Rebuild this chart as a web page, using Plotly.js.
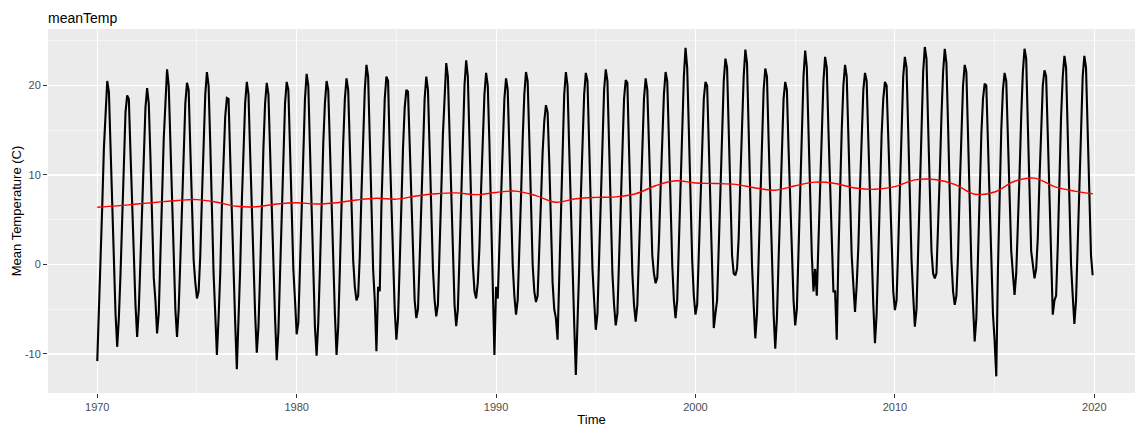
<!DOCTYPE html>
<html><head><meta charset="utf-8">
<script src="https://cdn.plot.ly/plotly-3.0.1.min.js"></script>
<style>html,body{margin:0;padding:0;background:#fff;} #chart{width:1135px;height:427px;}</style>
</head><body><div id="chart"></div>
<script>
// Monthly mean temperature (C), Jan..Dec for each year
const startYear = 1970;
const temp1970s = [
  -10.8, -5.5, -0.5, 6.5, 13.0, 17.8, 20.5, 19.3, 13.0, 6.0, -1.0, -5.5,
  -9.2, -6.0, -1.0, 6.0, 12.5, 17.0, 18.9, 18.5, 12.5, 6.5, -0.5, -4.5,
  -8.1, -5.0, 0.5, 7.0, 13.0, 17.5, 19.7, 18.0, 12.0, 5.5, -1.5, -4.0,
  -7.7, -5.5, 0.0, 7.5, 14.0, 19.0, 21.8, 20.0, 13.5, 6.5, -1.0, -5.0,
  -8.1, -5.0, 0.5, 7.0, 13.5, 18.0, 20.3, 19.5, 13.0, 6.0, 0.5, -2.0,
  -3.8, -3.0, 1.0, 7.5, 14.0, 19.0, 21.5, 20.0, 13.5, 6.0, -1.0, -5.5,
  -10.1, -6.0, -1.0, 6.5, 12.5, 16.5, 18.6, 18.5, 12.0, 5.0, -2.0, -6.5,
  -11.7, -7.0, -0.5, 7.0, 13.0, 18.0, 20.4, 19.0, 12.5, 5.5, -1.5, -5.5,
  -9.85, -7.0, -1.0, 6.5, 13.0, 18.0, 20.3, 19.0, 12.5, 6.0, -1.0, -6.0,
  -10.7, -7.5, -1.0, 6.0, 13.0, 18.0, 20.4, 19.5, 13.0, 6.0, -0.5, -4.0
];
const temp1980s = [
  -7.8, -6.5, -0.5, 7.0, 13.5, 18.5, 21.3, 20.0, 13.0, 5.5, -1.5, -7.0,
  -10.2, -6.5, -0.5, 7.0, 13.5, 18.0, 20.5, 19.5, 13.0, 6.0, -1.0, -5.5,
  -10.1, -7.0, -0.5, 7.0, 13.5, 18.5, 20.8, 19.5, 13.0, 6.5, 0.5, -2.5,
  -4.0, -3.5, 1.0, 8.0, 14.5, 19.5, 22.3, 21.0, 14.0, 6.5, -0.5, -4.0,
  -9.7, -2.5, -3.0, 6.5, 13.5, 18.5, 21.0, 20.5, 13.0, 6.0, -1.0, -5.0,
  -8.4, -6.0, 0.0, 7.0, 13.0, 17.5, 19.5, 19.3, 13.0, 6.0, -0.5, -4.0,
  -6.0, -5.0, 0.5, 7.5, 14.0, 18.5, 21.0, 19.5, 13.0, 6.0, -0.5, -4.0,
  -5.8, -4.5, 1.0, 8.0, 14.5, 19.5, 22.5, 21.0, 14.0, 6.5, -0.5, -4.5,
  -6.9, -5.0, 1.0, 8.0, 15.0, 20.0, 22.8, 21.0, 14.0, 6.5, 0.0, -3.0,
  -3.8, -2.0, 2.0, 8.5, 14.5, 19.0, 21.4, 20.0, 13.5, 6.0, -1.5, -10.1
];
const temp1990s = [
  -2.5, -3.8, 2.0, 8.0, 14.0, 18.5, 20.8, 19.5, 13.0, 6.0, 0.0, -3.5,
  -5.6, -4.0, 1.0, 7.5, 14.0, 19.0, 21.5, 20.5, 14.0, 6.5, 0.0, -3.0,
  -4.2, -3.5, 1.0, 7.0, 12.5, 16.0, 17.8, 17.0, 11.5, 4.5, -2.0, -5.0,
  -6.0, -8.4, -1.0, 7.0, 14.0, 19.0, 21.5, 20.0, 13.0, 5.5, -2.0, -6.5,
  -12.35, -7.5, -0.5, 7.5, 14.0, 19.0, 21.4, 20.5, 13.5, 6.5, -0.5, -4.0,
  -7.3, -5.5, 0.5, 7.5, 14.5, 19.5, 21.8, 20.5, 13.5, 6.5, -1.0, -4.5,
  -6.8, -5.5, 0.0, 7.0, 13.5, 18.5, 20.6, 20.3, 13.0, 6.0, -1.0, -4.5,
  -6.4, -4.5, 1.0, 7.5, 14.0, 18.5, 20.8, 19.5, 13.5, 7.0, 1.0, -1.0,
  -2.1, -1.5, 2.5, 8.5, 14.5, 19.0, 21.5, 20.5, 14.0, 6.5, 0.0, -4.0,
  -6.0, -4.0, 2.0, 9.0, 15.5, 21.0, 24.2, 22.0, 15.0, 7.5, 0.5, -3.5
];
const temp2000s = [
  -5.6, -4.5, 1.5, 8.0, 14.0, 18.5, 20.4, 20.0, 13.5, 6.5, -0.5, -7.1,
  -5.5, -4.0, 2.0, 8.5, 15.5, 20.5, 23.0, 22.0, 15.0, 7.5, 1.0, -1.0,
  -1.2, -0.5, 3.0, 9.5, 16.0, 21.0, 24.0, 22.5, 15.0, 7.0, 0.0, -4.5,
  -8.25, -5.5, 1.0, 8.0, 15.0, 19.5, 21.9, 21.0, 14.0, 6.5, -1.0, -5.5,
  -9.4, -6.0, 0.5, 7.5, 14.0, 18.5, 20.4, 19.5, 13.0, 6.5, 0.0, -4.0,
  -6.8, -5.0, 1.5, 9.0, 16.0, 21.0, 23.9, 22.0, 15.0, 7.5, 1.0, -3.0,
  -0.5, -3.5, 2.5, 9.0, 15.5, 20.5, 23.2, 22.0, 15.0, 8.0, 1.0, -3.0,
  -3.0, -8.4, 1.0, 8.5, 15.0, 20.0, 22.3, 21.0, 14.5, 7.5, 1.0, -2.3,
  -5.3, -2.3, 2.0, 8.5, 15.0, 19.5, 21.4, 20.5, 14.0, 7.0, 0.0, -4.5,
  -8.8, -5.5, 1.0, 8.0, 14.5, 18.5, 20.4, 20.0, 14.0, 6.5, 0.5, -3.0
];
const temp2010s = [
  -5.1, -4.0, 2.0, 9.0, 16.0, 21.0, 23.2, 22.0, 15.0, 7.5, 0.5, -3.5,
  -6.95, -5.0, 2.0, 9.5, 16.5, 21.5, 24.3, 23.0, 15.5, 8.0, 1.5, -1.0,
  -1.55, -1.0, 3.5, 10.0, 16.5, 21.5, 24.1, 22.5, 15.5, 7.5, 0.5, -3.0,
  -4.5, -3.5, 1.0, 8.5, 15.0, 20.0, 22.3, 21.5, 14.5, 7.0, 0.0, -4.5,
  -8.6, -6.0, 1.0, 8.0, 14.5, 18.5, 20.2, 20.0, 13.5, 6.0, -0.5, -5.5,
  -8.5, -12.5, -0.5, 8.0, 15.0, 19.5, 21.4, 20.5, 14.5, 7.5, 1.5, -1.0,
  -3.4, -1.0, 3.5, 10.0, 16.5, 21.5, 24.1, 23.0, 15.5, 8.0, 1.5, 0.0,
  -1.55, -0.5, 3.0, 9.5, 15.5, 20.0, 21.7, 21.0, 14.5, 7.0, 0.5, -5.6,
  -4.0, -3.5, 2.0, 9.5, 16.5, 21.0, 23.3, 22.0, 15.0, 7.5, 0.0, -3.5,
  -6.65, -4.0, 2.0, 9.0, 16.0, 21.0, 23.3, 22.0, 15.0, 7.0, 1.0, -1.2
];
// Trend (red line), read at yearly points
const trendTime = [1970,1971,1972,1973,1974,1975,1976,1977,1978,1979,
  1980,1981,1982,1983,1984,1985,1986,1987,1988,1989,
  1990,1991,1992,1993,1994,1995,1996,1997,1998,1999,
  2000,2001,2002,2003,2004,2005,2006,2007,2008,2009,
  2010,2011,2012,2013,2014,2015,2016,2017,2018,2019,2019.92];
const trendValues = [6.4,6.55,6.75,6.95,7.15,7.25,6.95,6.5,6.45,6.75,
  6.9,6.75,6.9,7.2,7.4,7.3,7.65,7.9,8.0,7.8,
  8.05,8.2,7.7,6.95,7.35,7.5,7.55,7.9,8.8,9.35,
  9.1,9.05,8.95,8.55,8.3,8.8,9.2,9.05,8.55,8.4,
  8.7,9.45,9.5,8.95,7.85,8.1,9.3,9.65,8.7,8.2,7.9];
const xTicks = [1970,1980,1990,2000,2010,2020];
const xMinor = [1975,1985,1995,2005,2015];
const yTicks = [-10,0,10,20];
const yMinor = [-5,5,15,25];

const monthly = [].concat(temp1970s, temp1980s, temp1990s, temp2000s, temp2010s);
const time = monthly.map((v, i) => startYear + i / 12);

const traces = [
  {x: time, y: monthly, type: 'scatter', mode: 'lines', line: {color: '#000', width: 2.1}, hoverinfo: 'x+y'},
  {x: trendTime, y: trendValues, type: 'scatter', mode: 'lines', line: {color: '#FF0000', width: 1.4, shape: 'spline', smoothing: 1}, hoverinfo: 'x+y'}
];

const fontFam = '"Liberation Sans", Arial, sans-serif';
const layout = {
  width: 1135, height: 427,
  margin: {l: 48, r: 0, t: 29, b: 34, pad: 0},
  paper_bgcolor: '#FFFFFF', plot_bgcolor: '#EBEBEB',
  showlegend: false,
  font: {family: fontFam, color: '#000'},
  title: {text: 'meanTemp', font: {size: 14, color: '#000', family: fontFam},
          x: 0, xref: 'paper', xanchor: 'left', y: 1 - 18/427, yref: 'container', yanchor: 'middle'},
  xaxis: {
    range: [1967.53, 2022.04], tickmode: 'array', tickvals: xTicks, ticktext: xTicks.map(String),
    ticks: 'outside', ticklen: 4, tickwidth: 1, tickcolor: '#333333',
    tickfont: {size: 11, color: '#4D4D4D', family: fontFam},
    showgrid: true, gridcolor: '#FFFFFF', gridwidth: 1.1,
    minor: {tickmode: 'array', tickvals: xMinor, showgrid: true, gridcolor: '#FFFFFF', gridwidth: 0.5, ticks: ''},
    zeroline: false, showline: false, automargin: false,
    title: {text: 'Time', font: {size: 13, color: '#000', family: fontFam}, standoff: 3}
  },
  yaxis: {
    range: [-14.36, 26.31], tickmode: 'array', tickvals: yTicks, ticktext: yTicks.map(String),
    ticks: 'outside', ticklen: 4, tickwidth: 1, tickcolor: '#333333',
    tickfont: {size: 11, color: '#4D4D4D', family: fontFam},
    showgrid: true, gridcolor: '#FFFFFF', gridwidth: 1.1,
    minor: {tickmode: 'array', tickvals: yMinor, showgrid: true, gridcolor: '#FFFFFF', gridwidth: 0.5, ticks: ''},
    zeroline: false, showline: false, automargin: false,
    title: {text: 'Mean Temperature (C)', font: {size: 13, color: '#000', family: fontFam}, standoff: 0}
  }
};

Plotly.newPlot('chart', traces, layout, {displayModeBar: false, staticPlot: true});
</script>
</body></html>
